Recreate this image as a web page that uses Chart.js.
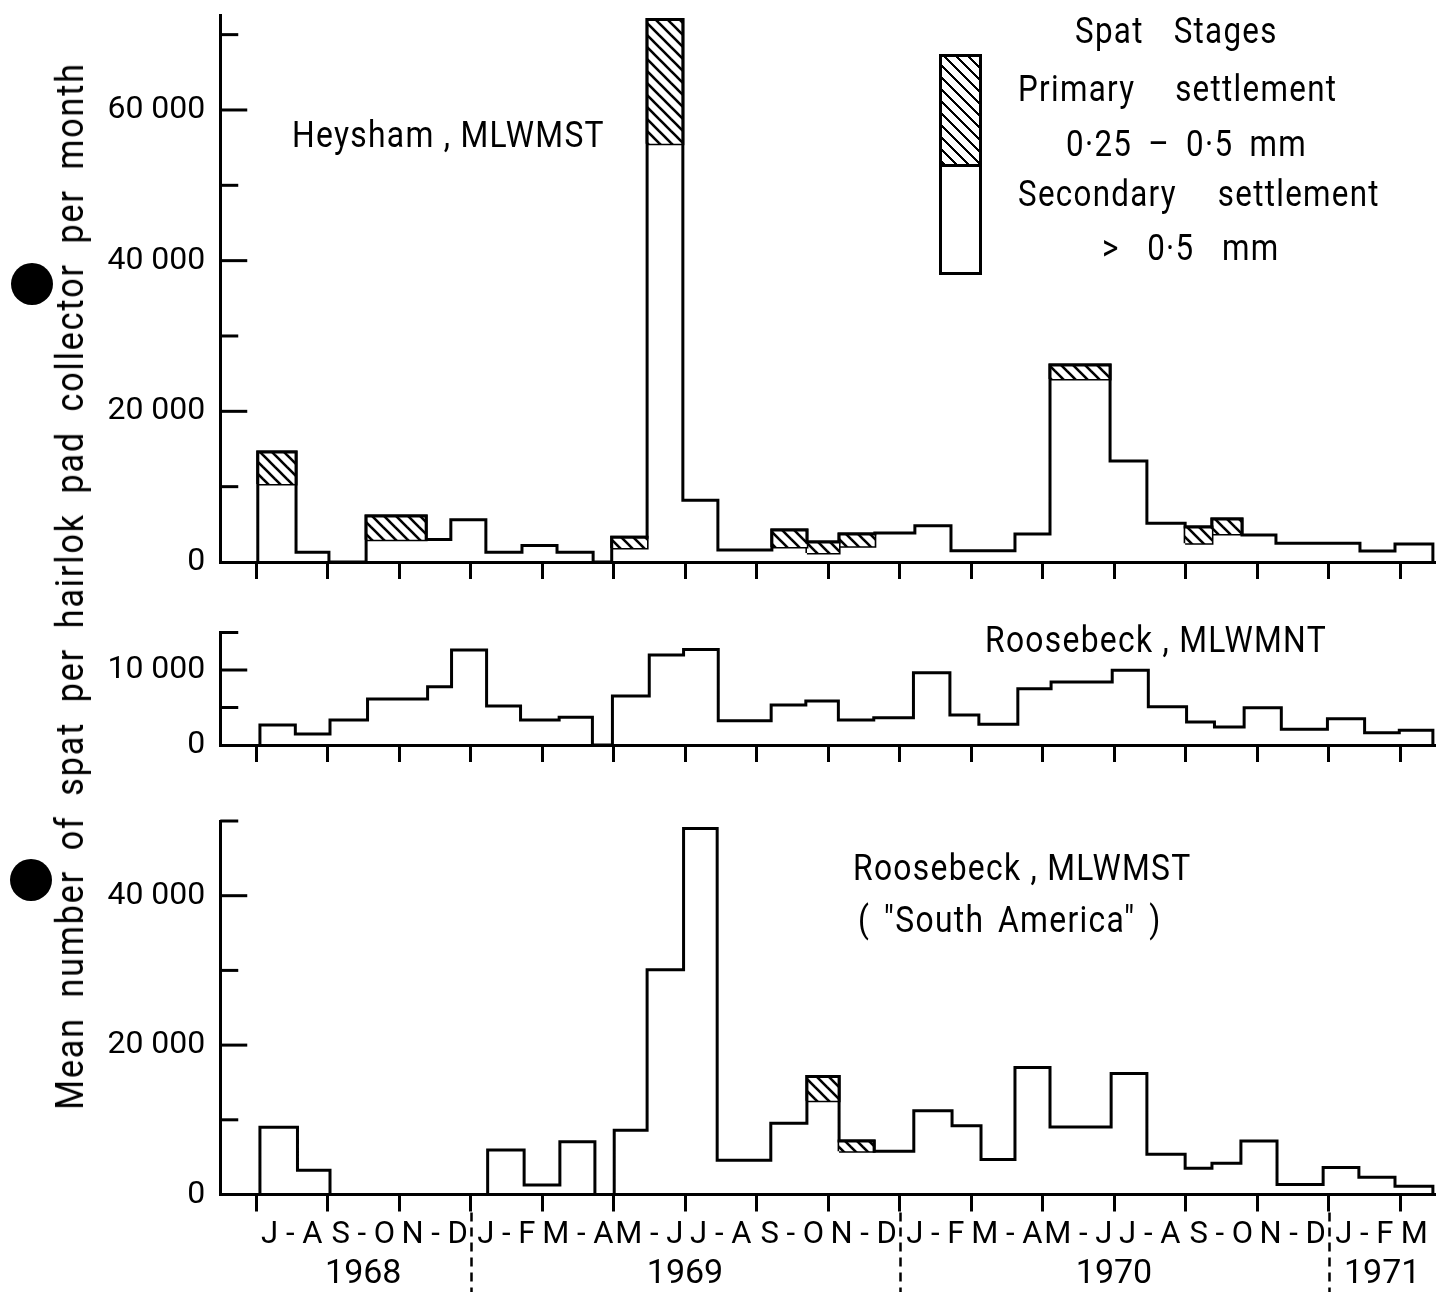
<!DOCTYPE html>
<html>
<head>
<meta charset="utf-8">
<script src="https://cdn.jsdelivr.net/npm/chart.js@4.4.1/dist/chart.umd.min.js"></script>
<style>
  html, body { margin:0; padding:0; background:#fff; }
  #page { position:relative; width:1447px; height:1292px; overflow:hidden; background:#fff;
          font-family:Roboto,'Liberation Sans',sans-serif; color:#000; }
  canvas { position:absolute; left:0; }
  .ttl { position:absolute; white-space:nowrap; letter-spacing:1.5px; font-size:37px; height:44px; line-height:44px;
         transform:scaleX(0.86); transform-origin:0 50%; }
  .just { text-align:justify; text-align-last:justify; }
  .lg { position:absolute; white-space:nowrap; text-align:justify; text-align-last:justify; letter-spacing:1.5px;
        font-size:36px; height:42px; line-height:42px; transform:scaleX(0.87); transform-origin:0 50%; }
  .dot { position:absolute; width:42px; height:42px; border-radius:50%; background:#000; }
  #legendBox { position:absolute; left:939px; top:54px; width:43px; height:221px; border:3px solid #000; box-sizing:border-box; background:#fff; }
  #legendHatch { position:absolute; left:0; top:0; right:0; height:107px; border-bottom:3px solid #000;
     background: repeating-linear-gradient(45deg, #000 0 2.4px, #fff 2.4px 8.5px); }
  #ytitle { position:absolute; width:1164px; height:40px; line-height:40px; font-size:38px; left:-512px; top:566px;
     transform:rotate(-90deg) scaleX(0.9); transform-origin:50% 50%; letter-spacing:2px;
     text-align:justify; text-align-last:justify; white-space:nowrap; }
</style>
</head>
<body>
<div id="page">
  <canvas id="c1" width="1447" height="600" style="top:0px"></canvas>
  <canvas id="c2" width="1447" height="200" style="top:600px"></canvas>
  <canvas id="c3" width="1447" height="492" style="top:800px"></canvas>

  <div id="ytitle">Mean number of spat per hairlok pad collector per month</div>
  <div class="dot" style="left:11px; top:263px;"></div>
  <div class="dot" style="left:10px; top:859px;"></div>

  <div class="ttl" style="left:292px; top:113px;">Heysham , MLWMST</div>
  <div class="ttl" style="left:985px; top:618px;">Roosebeck , MLWMNT</div>
  <div class="ttl" style="left:853px; top:846px;">Roosebeck , MLWMST</div>
  <div class="ttl just" style="left:858px; top:898px; width:353px;">( "South America" )</div>

  <div id="legendBox"><div id="legendHatch"></div></div>
  <div class="lg" style="left:1075px; top:10px; width:233px;">Spat Stages</div>
  <div class="lg" style="left:1018px; top:68px; width:367px;">Primary settlement</div>
  <div class="lg" style="left:1066px; top:123px; width:277px;">0·25 – 0·5 mm</div>
  <div class="lg" style="left:1102px; top:227px; width:204px;">&gt; 0·5 mm</div>
  <div class="lg" style="left:1018px; top:173px; width:416px;">Secondary settlement</div>
</div>

<script>
// ---------- DATA (months counted from 1 July 1968) ----------
const tickMonths = [0, 2, 4, 6, 8, 10, 12, 14, 16, 18, 20, 22, 24, 26, 28, 30, 32];
const pairLabelPos = [1, 3, 5, 7, 9, 11, 13, 15, 17, 19, 21, 23, 25, 27, 29, 31, 32.4];
const pairLabels = ['J - A', 'S - O', 'N - D', 'J - F', 'M - A', 'M - J', 'J - A', 'S - O', 'N - D',
                    'J - F', 'M - A', 'M - J', 'J - A', 'S - O', 'N - D', 'J - F', 'M'];
const yearPos = [3, 12, 24, 31.5];
const yearLabels = ['1968', '1969', '1970', '1971'];
const yearBreaks = [6, 18, 30];

// Heysham, MLWMST
const heyEdges = [0.05, 1.12, 2.04, 3.08, 4.76, 5.45, 6.43, 7.44, 8.42, 9.43, 9.95, 10.94, 11.94, 12.92,
                  14.43, 15.41, 16.31, 17.31, 18.43, 19.44, 21.23, 22.21, 23.89, 24.92, 25.99, 26.74,
                  27.58, 28.53, 30.88, 31.86, 32.92];
const heyTotal = [14600, 1300, 0, 6100, 3000, 5600, 1300, 2200, 1300, 0, 3300, 72000, 8200, 1600,
                  4250, 2650, 3700, 3850, 4800, 1500, 3700, 26150, 13400, 5150, 4650, 5700, 3600,
                  2500, 1450, 2400];
const heySecondary = [10350, null, null, 2950, null, null, null, null, null, null, 1850, 55500, null, null,
                      2000, 1200, 2100, null, null, null, null, 24300, null, null, 2500, 3700, null,
                      null, null, null];

// Roosebeck, MLWMNT
const mntEdges = [0.11, 1.10, 2.07, 3.12, 4.80, 5.47, 6.45, 7.40, 8.48, 9.41, 9.97, 11.0, 11.96, 12.93,
                  14.41, 15.38, 16.29, 17.28, 18.39, 19.41, 20.22, 21.31, 22.24, 23.95, 24.96, 26.03,
                  26.81, 27.64, 28.68, 29.97, 31.01, 31.98, 32.92];
const mntTotal = [2670, 1470, 3330, 6130, 7780, 12670, 5200, 3330, 3690, 0, 6530, 12000, 12750, 3240,
                  5330, 5870, 3330, 3640, 9640, 4000, 2760, 7510, 8400, 9960, 5110, 3070, 2400, 4980,
                  2090, 3510, 1640, 1960];
const mntSecondary = mntTotal.map(() => null);

// Roosebeck, MLWMST ("South America")
const mstEdges = [0.11, 1.16, 2.07, 6.48, 7.50, 8.50, 9.48, 10.02, 10.94, 11.96, 12.9, 14.4, 15.41,
                  16.31, 17.29, 18.4, 19.47, 20.28, 21.23, 22.21, 23.92, 24.92, 25.99, 26.74, 27.55,
                  28.56, 29.85, 30.85, 31.86, 32.92];
const mstTotal = [9000, 3240, 0, 5950, 1260, 7070, 0, 8600, 30100, 49000, 4600, 9550, 15800, 7150,
                  5800, 11200, 9200, 4700, 17000, 9050, 16200, 5400, 3500, 4200, 7150, 1350, 3600,
                  2300, 1100];
const mstSecondary = [null, null, null, null, null, null, null, null, null, null, null, null, 12550, 5800,
                      null, null, null, null, null, null, null, null, null, null, null, null, null,
                      null, null];

// ---------- helpers ----------
const FONT = "Roboto,'Liberation Sans',sans-serif";
Chart.defaults.font.family = FONT;
Chart.defaults.color = '#000';

function fmt(v) { return v === 0 ? '0' : (v / 1000) + ' 000'; }

function makeHatch(ctx) {
  const s = 12, c = document.createElement('canvas');
  c.width = s; c.height = s;
  const g = c.getContext('2d');
  g.fillStyle = '#fff'; g.fillRect(0, 0, s, s);
  g.strokeStyle = '#000'; g.lineWidth = 2.6;
  for (const k of [-1, 0, 1]) {
    g.beginPath(); g.moveTo(k * s - 1, -1); g.lineTo(k * s + s + 1, s + 1); g.stroke();
  }
  return ctx.createPattern(c, 'repeat');
}

function noPad(s) { s.paddingTop = 0; s.paddingBottom = 0; s.paddingLeft = 0; s.paddingRight = 0; }

const axisDecor = {
  id: 'axisDecor',
  afterDraw(chart, args, o) {
    const ctx = chart.ctx, y = chart.scales.y, x = chart.scales.x, left = chart.chartArea.left;
    ctx.save();
    ctx.strokeStyle = '#000'; ctx.lineWidth = 3; ctx.lineCap = 'butt';
    for (let v = o.minor; v <= o.top + 1; v += o.minor) {
      const py = y.getPixelForValue(v);
      const len = (v % o.major === 0) ? 27 : 18;
      ctx.beginPath(); ctx.moveTo(left, py); ctx.lineTo(left + len, py); ctx.stroke();
    }
    if (o.breaks && o.breaks.length) {
      ctx.setLineDash([9, 6]); ctx.lineWidth = 2.5;
      o.breaks.forEach(m => {
        const px = Math.round(x.getPixelForValue(m)) + 0.5;
        ctx.beginPath(); ctx.moveTo(px, y.bottom + 18); ctx.lineTo(px, chart.height); ctx.stroke();
      });
    }
    ctx.restore();
  }
};

function buildDatasets(edges, total, secondary, hatch) {
  const ds = [];
  const pts = [{ x: edges[0], y: 0 }];
  total.forEach((v, i) => pts.push({ x: edges[i], y: v }));
  pts.push({ x: edges[edges.length - 1], y: 0 });
  ds.push({ data: pts, stepped: true, borderColor: '#000', borderWidth: 3, pointRadius: 0,
            fill: false, clip: false, borderJoinStyle: 'miter', xAxisID: 'x', yAxisID: 'y' });
  secondary.forEach((sec, i) => {
    if (sec === null) return;
    const s = edges[i], e = edges[i + 1], t = total[i];
    ds.push({ data: [{ x: s, y: t }, { x: e, y: t }], fill: { value: sec }, backgroundColor: hatch,
              borderWidth: 0, pointRadius: 0, clip: false, xAxisID: 'x', yAxisID: 'y' });
    ds.push({ data: [{ x: s, y: sec }, { x: s, y: t }, { x: e, y: t }, { x: e, y: sec }, { x: s, y: sec }],
              borderColor: '#000', borderWidth: 3, pointRadius: 0, fill: false, clip: false,
              borderJoinStyle: 'miter', xAxisID: 'x', yAxisID: 'y' });
  });
  return ds;
}

function xTickAxis(height) {
  return {
    type: 'linear', min: -1, max: 33, position: 'bottom', weight: 0,
    afterBuildTicks: s => { s.ticks = tickMonths.map(v => ({ value: v })); },
    ticks: { display: false },
    grid: { display: true, drawOnChartArea: false, drawTicks: true, tickLength: 17, tickWidth: 3, tickColor: '#000' },
    border: { display: true, width: 3, color: '#000' },
    afterFit: s => { s.height = height; noPad(s); }
  };
}

function yAxis(max, labelVals) {
  return {
    type: 'linear', min: 0, max: max, position: 'left',
    afterBuildTicks: s => { s.ticks = labelVals.map(v => ({ value: v })); },
    ticks: { callback: v => fmt(v), font: { family: FONT, size: 32, lineHeight: 0.8 }, color: '#000', padding: 15 },
    grid: { display: true, drawOnChartArea: false, drawTicks: false },
    border: { display: true, width: 3, color: '#000' },
    afterFit: s => { s.width = 220.25; noPad(s); }
  };
}

function makeChart(id, datasets, scales, padTop, decor) {
  return new Chart(document.getElementById(id), {
    type: 'line',
    data: { datasets },
    options: {
      responsive: false, animation: false, devicePixelRatio: 1, events: [],
      layout: { padding: { top: padTop, right: 11.25, left: 0, bottom: 0 }, autoPadding: false },
      plugins: { legend: { display: false }, tooltip: { enabled: false }, axisDecor: decor },
      scales
    },
    plugins: [axisDecor]
  });
}

// Panel 1: Heysham
{
  const ctx = document.getElementById('c1').getContext('2d');
  makeChart('c1', buildDatasets(heyEdges, heyTotal, heySecondary, makeHatch(ctx)),
    { x: xTickAxis(38), y: yAxis(72500, [0, 20000, 40000, 60000]) },
    15.8, { top: 70000, major: 20000, minor: 10000, breaks: [] });
}
// Panel 2: Roosebeck MLWMNT
{
  const ctx = document.getElementById('c2').getContext('2d');
  makeChart('c2', buildDatasets(mntEdges, mntTotal, mntSecondary, makeHatch(ctx)),
    { x: xTickAxis(55), y: yAxis(15000, [0, 10000]) },
    32.5, { top: 15000, major: 10000, minor: 5000, breaks: [] });
}
// Panel 3: Roosebeck MLWMST
{
  const ctx = document.getElementById('c3').getContext('2d');
  makeChart('c3', buildDatasets(mstEdges, mstTotal, mstSecondary, makeHatch(ctx)),
    {
      x: xTickAxis(17),
      xm: {
        type: 'linear', min: -1, max: 33, position: 'bottom', weight: 1,
        afterBuildTicks: s => { s.ticks = pairLabelPos.map(v => ({ value: v })); },
        ticks: { callback: (v, i) => pairLabels[i],
                 autoSkip: false, maxRotation: 0, minRotation: 0,
                 font: { family: FONT, size: 31, lineHeight: 1 }, color: '#000', padding: 0 },
        grid: { display: false }, border: { display: false },
        afterFit: s => { s.height = 33; noPad(s); }
      },
      xy: {
        type: 'linear', min: -1, max: 33, position: 'bottom', weight: 2,
        afterBuildTicks: s => { s.ticks = yearPos.map(v => ({ value: v })); },
        ticks: { callback: (v, i) => yearLabels[i], autoSkip: false, maxRotation: 0, minRotation: 0,
                 font: { family: FONT, size: 34, lineHeight: 1 }, color: '#000', padding: 5 },
        grid: { display: false }, border: { display: false },
        afterFit: s => { s.height = 47.5; noPad(s); }
      },
      y: yAxis(50000, [0, 20000, 40000])
    },
    21, { top: 50000, major: 20000, minor: 10000, breaks: yearBreaks });
}
</script>
</body>
</html>
